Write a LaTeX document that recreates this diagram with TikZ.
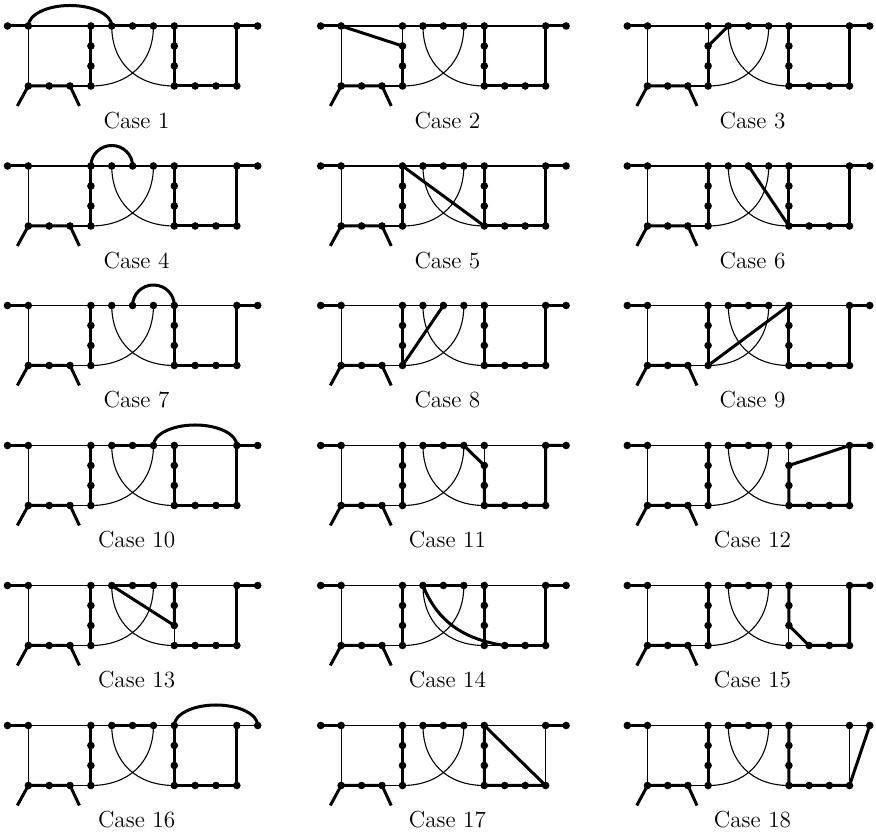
\documentclass[tikz,border=0pt]{standalone}
\tikzset{
  thinedge/.style={line width=0.55pt},
  thickedge/.style={line width=1.5pt, line join=round},
  caselabel/.style={inner sep=0pt, font=\fontsize{11.6}{14}\selectfont},
}
% #1 prefix, #2 x of column 0, #3 column step, #4 y of top row, #5 case number
\newcommand\mkpanel[5]{%
  \foreach \i in {0,...,12}{\foreach \j in {0,...,3}{\coordinate (#1-\i-\j) at ({#2+\i*#3},{#4-\j*20});}}
  \coordinate (#1-la) at ({#2+0.47*#3},{#4-80});
  \coordinate (#1-lb) at ({#2+3.45*#3},{#4-80});
  \node[caselabel] (#1-label) at ({#2+6*#3+4},{#4-94.5}) {Case #5};
  \draw[thinedge] (#1-0-0) -- (#1-12-0);
  \draw[thinedge] (#1-1-0) -- (#1-1-3) -- (#1-4-3);
  \draw[thinedge] (#1-4-0) -- (#1-4-3);
  \draw[thinedge] (#1-8-0) -- (#1-8-3) -- (#1-11-3) -- (#1-11-0);
  \draw[thinedge] (#1-5-0) to[out=-90,in=180,looseness=1.1] (#1-8-3);
  \draw[thinedge] (#1-7-0) to[out=-90,in=0,looseness=1.1] (#1-4-3);
  \draw[thickedge] (#1-la) -- (#1-1-3) -- (#1-3-3) -- (#1-lb);
  \draw[thickedge] (#1-0-0) -- (#1-1-0);
}
\newcommand\mkdots[1]{%
  \foreach \p in {0-0,1-0,4-0,5-0,6-0,7-0,8-0,11-0,12-0,4-1,4-2,8-1,8-2,1-3,2-3,3-3,4-3,8-3,9-3,10-3,11-3}{\fill (#1-\p) circle[radius=3.8];}
}
\newcommand\Rblock[1]{\draw[thickedge] (#1-8-0) -- (#1-8-3) -- (#1-11-3) -- (#1-11-0) -- (#1-12-0);}
\newcommand\Lfour[1]{\draw[thickedge] (#1-4-0) -- (#1-4-3);}
\newcommand\Tmid[1]{\draw[thickedge] (#1-5-0) -- (#1-7-0);}
% #1 start (left end), #2 half width
\newcommand\Hump[2]{\draw[thickedge] (#1) arc[start angle=180,end angle=0,x radius=#2,y radius=20.5];}
\begin{document}
\begin{tikzpicture}[x=0.5pt,y=0.5pt]
\useasboundingbox (0,0) rectangle (876,833);
% Row 1
\mkpanel{P1}{7.5}{20.85}{807}{1}
\Rblock{P1}\Lfour{P1}\Tmid{P1}\Hump{P1-1-0}{41.7}
\mkdots{P1}
\mkpanel{P2}{320.7}{20.45}{807}{2}
\Rblock{P2}\Tmid{P2}
\draw[thickedge] (P2-4-1) -- (P2-4-3);
\draw[thickedge] (P2-1-0) -- (P2-4-1);
\mkdots{P2}
\mkpanel{P3}{627.3}{20.2}{807}{3}
\Rblock{P3}\Tmid{P3}
\draw[thickedge] (P3-4-1) -- (P3-4-3);
\draw[thickedge] (P3-4-1) -- (P3-5-0);
\mkdots{P3}
% Row 2
\mkpanel{P4}{7.5}{20.85}{667}{4}
\Rblock{P4}\Lfour{P4}\Hump{P4-4-0}{20.85}
\mkdots{P4}
\mkpanel{P5}{320.7}{20.45}{667}{5}
\Rblock{P5}\Lfour{P5}\Tmid{P5}
\draw[thickedge] (P5-4-0) -- (P5-8-3);
\mkdots{P5}
\mkpanel{P6}{627.3}{20.2}{667}{6}
\Rblock{P6}\Lfour{P6}
\draw[thickedge] (P6-6-0) -- (P6-8-3);
\mkdots{P6}
% Row 3
\mkpanel{P7}{7.5}{20.85}{527.5}{7}
\Rblock{P7}\Lfour{P7}\Hump{P7-6-0}{20.85}
\mkdots{P7}
\mkpanel{P8}{320.7}{20.45}{527.5}{8}
\Rblock{P8}\Lfour{P8}
\draw[thickedge] (P8-4-3) -- (P8-6-0);
\mkdots{P8}
\mkpanel{P9}{627.3}{20.2}{527.5}{9}
\Rblock{P9}\Lfour{P9}\Tmid{P9}
\draw[thickedge] (P9-4-3) -- (P9-8-0);
\mkdots{P9}
% Row 4
\mkpanel{P10}{7.5}{20.85}{387.5}{10}
\Rblock{P10}\Lfour{P10}\Tmid{P10}\Hump{P10-7-0}{41.7}
\mkdots{P10}
\mkpanel{P11}{320.7}{20.45}{387.5}{11}
\Lfour{P11}\Tmid{P11}
\draw[thickedge] (P11-7-0) -- (P11-8-1) -- (P11-8-3) -- (P11-11-3) -- (P11-11-0) -- (P11-12-0);
\mkdots{P11}
\mkpanel{P12}{627.3}{20.2}{387.5}{12}
\Lfour{P12}\Tmid{P12}
\draw[thickedge] (P12-11-0) -- (P12-8-1) -- (P12-8-3) -- (P12-11-3) -- (P12-11-0) -- (P12-12-0);
\mkdots{P12}
% Row 5
\mkpanel{P13}{7.5}{20.85}{247.5}{13}
\Lfour{P13}\Tmid{P13}
\draw[thickedge] (P13-8-0) -- (P13-8-2) -- (P13-5-0);
\draw[thickedge] (P13-8-3) -- (P13-11-3) -- (P13-11-0) -- (P13-12-0);
\mkdots{P13}
\mkpanel{P14}{320.7}{20.45}{247.5}{14}
\Lfour{P14}\Tmid{P14}
\draw[thickedge] (P14-8-0) -- (P14-8-3);
\draw[thickedge] (P14-9-3) -- (P14-11-3) -- (P14-11-0) -- (P14-12-0);
\draw[thickedge] (P14-5-0) .. controls +(14.3,-36) and +(-40.9,6) .. (P14-9-3);
\mkdots{P14}
\mkpanel{P15}{627.3}{20.2}{247.5}{15}
\Lfour{P15}\Tmid{P15}
\draw[thickedge] (P15-8-0) -- (P15-8-2) -- (P15-9-3) -- (P15-11-3) -- (P15-11-0) -- (P15-12-0);
\mkdots{P15}
% Row 6
\mkpanel{P16}{7.5}{20.85}{107.5}{16}
\Lfour{P16}\Tmid{P16}\Hump{P16-8-0}{41.7}
\draw[thickedge] (P16-8-0) -- (P16-8-3) -- (P16-11-3) -- (P16-11-0);
\mkdots{P16}
\mkpanel{P17}{320.7}{20.45}{107.5}{17}
\Lfour{P17}\Tmid{P17}
\draw[thickedge] (P17-11-3) -- (P17-8-3) -- (P17-8-0) -- (P17-11-3);
\draw[thickedge] (P17-11-0) -- (P17-12-0);
\mkdots{P17}
\mkpanel{P18}{627.3}{20.2}{107.5}{18}
\Lfour{P18}\Tmid{P18}
\draw[thickedge] (P18-8-0) -- (P18-8-3) -- (P18-11-3) -- (P18-12-0);
\mkdots{P18}
\end{tikzpicture}
\end{document}
